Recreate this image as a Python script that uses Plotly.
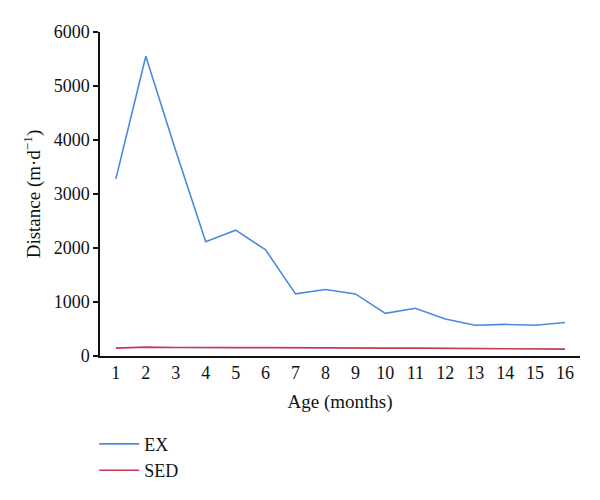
import plotly.graph_objects as go

months = list(range(1, 17))
tick_labels = [str(m) for m in months]
ex_values = [3280, 5550, 3800, 2115, 2330, 1965, 1150, 1230, 1150, 790, 885, 685, 570, 585, 570, 620]
sed_values = [145, 165, 158, 152, 156, 155, 150, 150, 147, 145, 145, 142, 137, 137, 133, 128]

font_family = "Liberation Serif, Times New Roman, serif"

fig = go.Figure()
fig.add_trace(go.Scatter(x=months, y=ex_values, mode="lines", name="EX",
                         line=dict(color="#4a8ae0", width=1.6)))
fig.add_trace(go.Scatter(x=months, y=sed_values, mode="lines", name="SED",
                         line=dict(color="#c43a55", width=1.6)))

fig.update_layout(
    template="none",
    width=600, height=500,
    margin=dict(l=92, r=28, t=24, b=152),
    paper_bgcolor="white", plot_bgcolor="white",
    font=dict(family=font_family, size=18, color="#111"),
    showlegend=True,
    legend=dict(x=-0.012, xanchor="left", y=-0.215, yanchor="top",
                font=dict(family=font_family, size=18, color="#111"),
                bgcolor="rgba(0,0,0,0)", itemwidth=40, tracegroupgap=0),
    xaxis=dict(range=[0.47, 16.5], tickmode="array", tickvals=months, ticktext=tick_labels,
               showgrid=False, zeroline=False, showline=True, linecolor="#111", linewidth=1.5,
               ticks="", automargin=False,
               title=dict(text="Age (months)", standoff=12, font=dict(size=19)),
               tickfont=dict(size=18)),
    yaxis=dict(range=[0, 6000], tickvals=[0, 1000, 2000, 3000, 4000, 5000, 6000],
               showgrid=False, zeroline=False, showline=True, linecolor="#111", linewidth=1.5,
               ticks="outside", ticklen=5, tickcolor="#111", tickwidth=1.5, automargin=False,
               title=dict(text="Distance (m·d<sup>−1</sup>)", standoff=8, font=dict(size=19)),
               tickfont=dict(size=18)),
)

fig.write_html("out.html")
